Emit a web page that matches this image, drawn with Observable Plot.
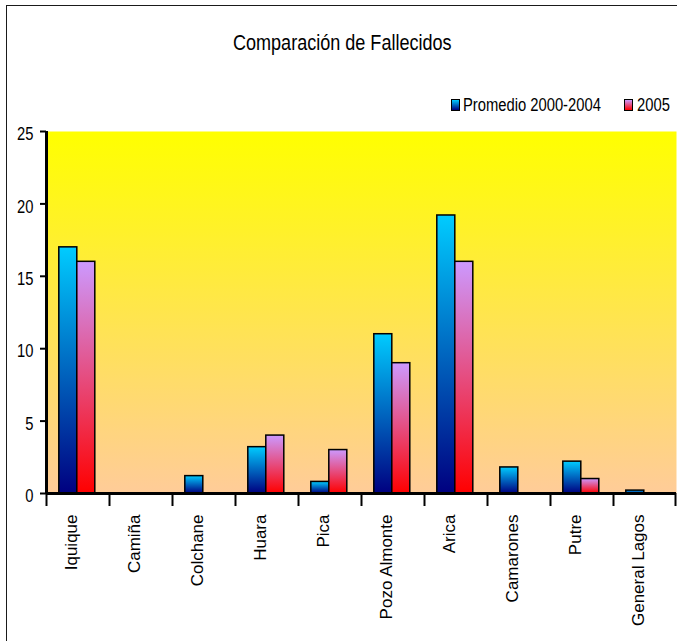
<!DOCTYPE html>
<html>
<head>
<meta charset="utf-8">
<script src="https://cdn.jsdelivr.net/npm/d3@7"></script>
<script src="https://cdn.jsdelivr.net/npm/@observablehq/plot@0.6"></script>
<style>
  html, body { margin: 0; padding: 0; background: #fff; overflow: hidden; }
  #wrap { position: relative; width: 677px; height: 641px; overflow: hidden; background: #fff; }
  #frameBox { position: absolute; left: 5.5px; top: 5px; width: 800px; height: 800px; border: 1.6px solid #1a1a1a; box-sizing: border-box; }
  .narrow { font-family: "Liberation Sans", Arial, sans-serif; color: #000; white-space: nowrap; }
  #title { position: absolute; left: 0; width: 684px; top: 31.5px; text-align: center; font-size: 22px; line-height: 22px; }
  #title span { display: inline-block; transform: scaleX(0.82); transform-origin: 50% 50%; }
  .leg { position: absolute; font-size: 18px; line-height: 18px; transform: scaleX(0.82); transform-origin: 0 50%; }
  .sw { position: absolute; width: 9px; height: 12px; box-sizing: border-box; border: 1.3px solid #000; }
  #chart { position: absolute; left: 0; top: 0; }
</style>
</head>
<body>
<div id="wrap">
  <div id="frameBox"></div>
  <div id="title" class="narrow"><span>Comparación de Fallecidos</span></div>
  <div id="legend"></div>
  <div id="chart"></div>
</div>
<script>
// ---- data ----
const categories = ["Iquique", "Camiña", "Colchane", "Huara", "Pica", "Pozo Almonte", "Arica", "Camarones", "Putre", "General Lagos"];
const promedio = [17, 0, 1.2, 3.2, 0.8, 11, 19.2, 1.8, 2.2, 0.2];
const valores2005 = [16, 0, 0, 4, 3, 9, 16, 0, 1, 0];
const seriesNames = ["Promedio 2000-2004", "2005"];
const yTicks = [0, 5, 10, 15, 20, 25];

const rows = categories.map((c, i) => ({cat: c, prom: promedio[i], v2005: valores2005[i]}));

// ---- layout ----
const W = 677, H = 641, ML = 46, MR = 1, MT = 131, MB = 148;
const frameW = W - ML - MR;
const step = frameW / categories.length;
const REG = '"Liberation Sans", Arial, sans-serif';

const chart = Plot.plot({
  width: W, height: H,
  marginLeft: ML, marginRight: MR, marginTop: MT, marginBottom: MB,
  style: {background: "transparent", overflow: "visible", color: "#000"},
  x: {domain: categories, padding: 0, axis: null},
  y: {domain: [0, 25], axis: null},
  marks: [
    Plot.frame({fill: "url(#bgGrad)", stroke: "none"}),
    Plot.barY(rows, {x: "cat", y: "prom", fill: "url(#gBlue)", stroke: "#000", strokeWidth: 1.5, insetLeft: 12.8, insetRight: 32.2}),
    Plot.barY(rows, {x: "cat", y: "v2005", fill: "url(#gPink)", stroke: "#000", strokeWidth: 1.5, insetLeft: 30.8, insetRight: 14.2}),
    Plot.ruleY([0], {stroke: "#000", strokeWidth: 3}),
    Plot.ruleX([categories[0]], {x: d => d, dx: -step / 2, y1: 0, y2: 25, stroke: "#000", strokeWidth: 3}),
    Plot.ruleX(categories, {x: d => d, dx: -step / 2, y1: 0, y2: 0, insetBottom: -13, stroke: "#000", strokeWidth: 2}),
    Plot.ruleX([categories[categories.length - 1]], {x: d => d, dx: step / 2 - 1, y1: 0, y2: 0, insetBottom: -13, stroke: "#000", strokeWidth: 2}),
    Plot.tickY(yTicks, {y: d => d, insetLeft: -6, insetRight: frameW, stroke: "#000", strokeWidth: 2}),
    Plot.text(yTicks, {y: d => d, text: d => String(d), frameAnchor: "left", textAnchor: "end", dx: -13, dy: 3, fontSize: 18, fontFamily: REG, fill: "#000"}),
    Plot.text(categories, {x: d => d, text: d => d, frameAnchor: "bottom", rotate: -90, textAnchor: "end", dy: 21, dx: -1.5, fontSize: 17, fontFamily: REG, fill: "#000"})
  ]
});

document.getElementById("chart").appendChild(chart);

// gradients
const svg = d3.select(chart);
const defs = svg.insert("defs", ":first-child");
function grad(id, top, bottom) {
  const g = defs.append("linearGradient").attr("id", id).attr("x1", 0).attr("y1", 0).attr("x2", 0).attr("y2", 1);
  g.append("stop").attr("offset", "0%").attr("stop-color", top);
  g.append("stop").attr("offset", "100%").attr("stop-color", bottom);
}
grad("bgGrad", "#FFFF00", "#FFCC99");
grad("gBlue", "#00CCFF", "#000080");
grad("gPink", "#CC99FF", "#FF0000");

// narrow look for the y tick labels (condensed horizontally around their anchor)
const tickSet = new Set(yTicks.map(String));
svg.selectAll("text").filter(function() { return tickSet.has(this.textContent); })
  .each(function() {
    const el = d3.select(this);
    const tr = el.attr("transform");
    if (tr && tr.includes("translate")) {
      el.attr("transform", tr + " scale(0.82,1)");
    } else {
      const x = +el.attr("x") || 0, y = +el.attr("y") || 0;
      el.attr("x", null).attr("y", null).attr("transform", `translate(${x},${y}) scale(0.82,1)`);
    }
  });

// legend
const legend = document.getElementById("legend");
const legendItems = [
  {name: seriesNames[0], grad: "linear-gradient(#00CCFF, #000080)", sx: 451, tx: 463},
  {name: seriesNames[1], grad: "linear-gradient(#CC99FF, #FF0000)", sx: 624, tx: 637}
];
legendItems.forEach(it => {
  const sw = document.createElement("div");
  sw.className = "sw";
  sw.style.left = it.sx + "px";
  sw.style.top = "99px";
  sw.style.background = it.grad;
  legend.appendChild(sw);
  const t = document.createElement("div");
  t.className = "leg narrow";
  t.style.left = it.tx + "px";
  t.style.top = "96.3px";
  t.textContent = it.name;
  legend.appendChild(t);
});
</script>
</body>
</html>
